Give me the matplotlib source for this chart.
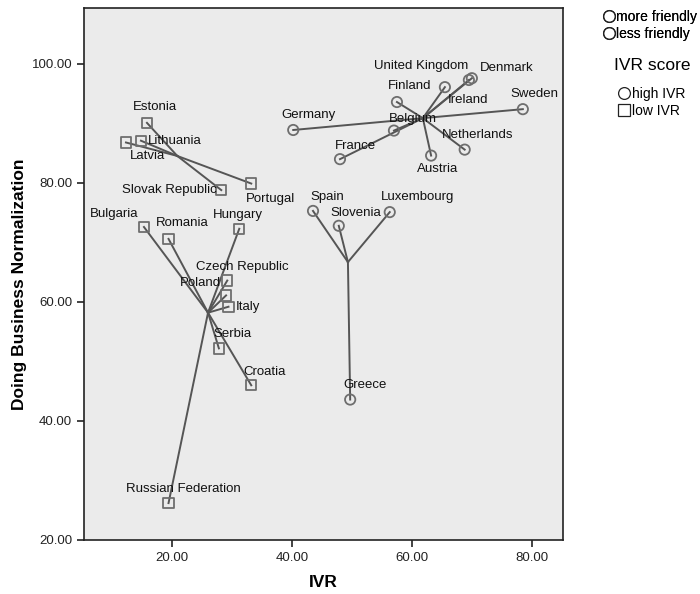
import numpy as np
import matplotlib.pyplot as plt
from matplotlib.lines import Line2D

plt.rcParams['font.family'] = ['Liberation Sans', 'DejaVu Sans']

countries = ["United Kingdom", "Denmark", "Finland", "Ireland", "Sweden", "Germany",
             "Belgium", "Netherlands", "France", "Austria",
             "Spain", "Slovenia", "Luxembourg", "Greece",
             "Estonia", "Lithuania", "Latvia", "Slovak Republic", "Portugal",
             "Bulgaria", "Romania", "Hungary", "Czech Republic", "Poland", "Italy",
             "Serbia", "Croatia", "Russian Federation"]
ivr = [69.5, 70.0, 57.5, 65.5, 78.5, 40.2, 57.0, 68.8, 48.0, 63.2,
       43.5, 47.8, 56.3, 49.7,
       15.8, 14.8, 12.3, 28.2, 33.2,
       15.3, 19.4, 31.2, 29.2, 29.0, 29.4, 27.8, 33.2, 19.4]
doing_business = [97.3, 97.6, 93.6, 96.1, 92.4, 88.9, 88.8, 85.6, 84.0, 84.6,
                  75.3, 72.8, 75.1, 43.6,
                  90.1, 87.1, 86.8, 78.8, 79.9,
                  72.6, 70.6, 72.3, 63.6, 61.1, 59.2, 52.2, 46.0, 26.2]
cluster = [1] * 10 + [2] * 4 + [3] * 5 + [4] * 9
high_ivr = [True] * 14 + [False] * 14

# label offsets (pixels) relative to each point
label_off = {
    "United Kingdom": (-48, 14), "Denmark": (35, 10), "Finland": (13, 16),
    "Ireland": (23, -13), "Sweden": (12, 15), "Germany": (15, 15),
    "Belgium": (19, 12), "Netherlands": (13, 15), "France": (15, 13),
    "Austria": (6, -13), "Spain": (14, 14), "Slovenia": (17, 13),
    "Luxembourg": (28, 15), "Greece": (15, 15), "Estonia": (8, 16),
    "Lithuania": (34, 0), "Latvia": (22, -14), "Slovak Republic": (-52, 0),
    "Portugal": (19, -15), "Bulgaria": (-30, 13), "Romania": (14, 16),
    "Hungary": (-1, 14), "Czech Republic": (15, 14), "Poland": (-26, 12),
    "Italy": (19, 0), "Serbia": (14, 14), "Croatia": (13, 13),
    "Russian Federation": (15, 14),
}

x = np.array(ivr)
y = np.array(doing_business)
cl = np.array(cluster)
hi = np.array(high_ivr)

dpi = 100
fig = plt.figure(figsize=(7.0, 5.94), dpi=dpi)
ax = fig.add_axes([84 / 700, 1 - 540 / 594, (563 - 84) / 700, (540 - 8) / 594])
ax.set_facecolor('#ebebeb')

line_col = '#555555'
mark_col = '#6e6e6e'

# spokes from each member to its cluster centre
for c in np.unique(cl):
    sel = cl == c
    cx, cy = x[sel].mean(), y[sel].mean()
    for xi, yi in zip(x[sel], y[sel]):
        ax.plot([cx, xi], [cy, yi], color=line_col, linewidth=1.4, zorder=2)

ax.scatter(x[hi], y[hi], s=55, marker='o', facecolors='none',
           edgecolors=mark_col, linewidths=1.3, zorder=3)
ax.scatter(x[~hi], y[~hi], s=55, marker='s', facecolors='none',
           edgecolors=mark_col, linewidths=1.3, zorder=3)

for name, xi, yi in zip(countries, x, y):
    dx, dy = label_off[name]
    ax.annotate(name, (xi, yi), xytext=(dx * 72 / dpi, dy * 72 / dpi),
                textcoords='offset points', ha='center', va='center',
                fontsize=9.5, color='#111111', zorder=4)

ax.set_xlim(5.3, 85.2)
ax.set_ylim(20, 109.4)
ax.set_xticks([20, 40, 60, 80])
ax.set_yticks([20, 40, 60, 80, 100])
ax.xaxis.set_major_formatter(lambda v, p: f"{v:.2f}")
ax.yaxis.set_major_formatter(lambda v, p: f"{v:.2f}")
ax.tick_params(direction='out', length=5, width=1.2, labelsize=9.5, colors='#222222')
for sp in ax.spines.values():
    sp.set_linewidth(1.2)
    sp.set_color('#222222')

ax.set_xlabel("IVR", fontsize=12.5, fontweight='bold', labelpad=8)
ax.set_ylabel("Doing Business Normalization", fontsize=12.5, fontweight='bold')
ax.yaxis.set_label_coords(-0.12, 0.48)

# legends on the right
circ = dict(marker='o', linestyle='none', markerfacecolor='none',
            markeredgecolor='#222222', markersize=8.5, markeredgewidth=0.9)
sq = dict(circ, marker='s')
leg1 = fig.legend([Line2D([], [], **circ), Line2D([], [], **circ)],
                  ["more friendly", "less friendly"], loc='upper left',
                  bbox_to_anchor=(604 / 700, 1 - 10 / 594), frameon=False,
                  fontsize=10, handlelength=0.7, handletextpad=0.2,
                  labelspacing=0.2, borderpad=0, borderaxespad=0)
fig.add_artist(leg1)
leg2 = fig.legend([Line2D([], [], **circ), Line2D([], [], **sq)],
                  ["high IVR", "low IVR"], loc='upper left', title="IVR score",
                  bbox_to_anchor=(614 / 700, 1 - 58 / 594), frameon=False,
                  fontsize=10, title_fontsize=12.5, handlelength=0.7,
                  handletextpad=0.2, labelspacing=0.2, borderpad=0,
                  borderaxespad=0)
leg2._legend_box.sep = 10

fig.savefig("out.png", dpi=dpi)
